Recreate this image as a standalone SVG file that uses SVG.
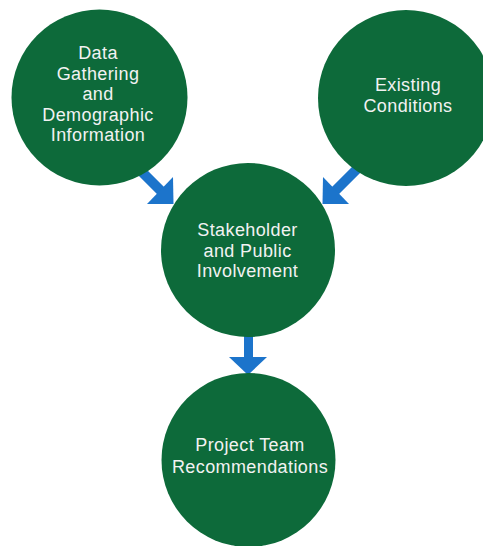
<svg xmlns="http://www.w3.org/2000/svg" width="483" height="546" viewBox="0 0 483 546">
<style>
.node circle{fill:#0d6a3a}
.node text{fill:#f2f2f2;font-family:"Liberation Sans",Arial,sans-serif;font-size:18px;letter-spacing:0.4px;text-anchor:middle}
.shaft{stroke:#1c74cb;stroke-width:10;fill:none}
.head{fill:#1c74cb}
</style>
<rect width="483" height="546" fill="#ffffff"/>
<g id="connectors">
  <line class="shaft" x1="128" y1="158" x2="162" y2="192"/>
  <polygon class="head" points="147,204 173,177 173.5,204"/>
  <line class="shaft" x1="368" y1="158" x2="334" y2="192"/>
  <polygon class="head" points="349,204 323,177 322.5,204"/>
  <line class="shaft" x1="248.5" y1="330" x2="248.5" y2="358" style="stroke-width:9"/>
  <polygon class="head" points="229,357 267,357 248,375"/>
</g>
<g id="node-data" class="node">
  <circle cx="99.5" cy="97.5" r="88"/>
  <text x="98" y="59">Data</text>
  <text x="98" y="80">Gathering</text>
  <text x="98" y="100">and</text>
  <text x="98" y="121">Demographic</text>
  <text x="98" y="141">Information</text>
</g>
<g id="node-existing" class="node">
  <circle cx="406" cy="98" r="88"/>
  <text x="408" y="91">Existing</text>
  <text x="408" y="112">Conditions</text>
</g>
<g id="node-stakeholder" class="node">
  <circle cx="248" cy="250" r="87"/>
  <text x="247.5" y="236">Stakeholder</text>
  <text x="247.5" y="257">and Public</text>
  <text x="247.5" y="277">Involvement</text>
</g>
<g id="node-project" class="node">
  <circle cx="248.5" cy="460" r="87"/>
  <text x="250" y="451">Project Team</text>
  <text x="250" y="473">Recommendations</text>
</g>
</svg>
